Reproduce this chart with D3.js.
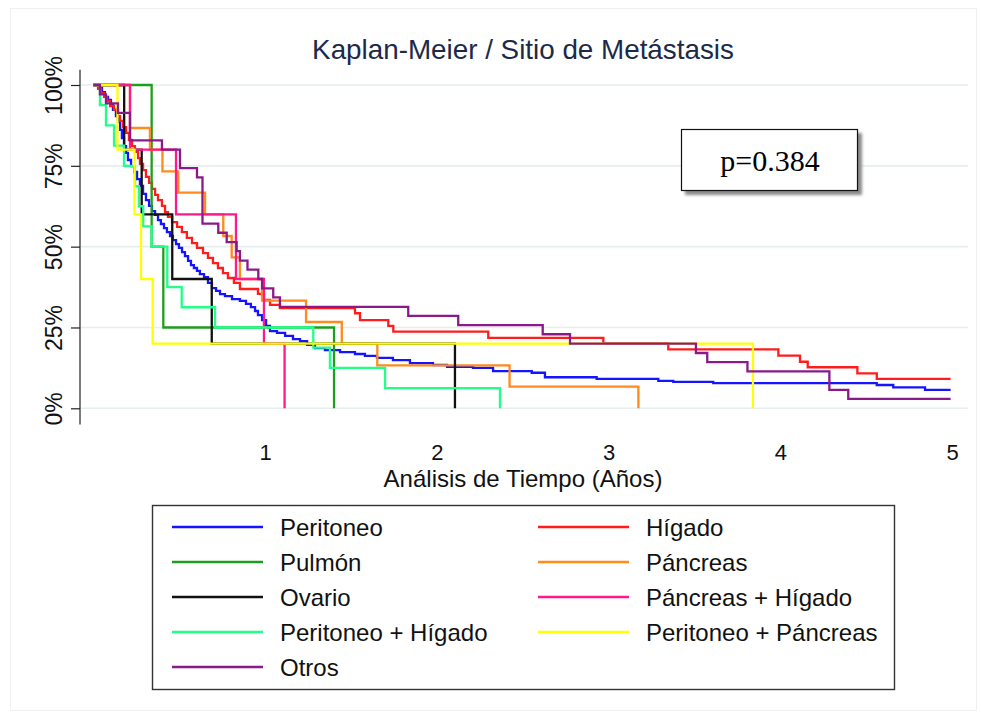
<!DOCTYPE html>
<html>
<head>
<meta charset="utf-8">
<script src="https://cdn.jsdelivr.net/npm/d3@7"></script>
<style>
  body { margin: 0; background: #fff; }
  svg { display: block; font-family: "Liberation Sans", Arial, sans-serif; }
</style>
</head>
<body>
<svg id="chart" width="982" height="717"></svg>
<script>
// Survival groups, in legend order (row by row, two columns)
const groups = [
  "Peritoneo", "Hígado",
  "Pulmón", "Páncreas",
  "Ovario", "Páncreas + Hígado",
  "Peritoneo + Hígado", "Peritoneo + Páncreas",
  "Otros"
];
const colors = [
  "#1414ff", "#ff1c1c",
  "#1e9e1e", "#ff8a1e",
  "#111111", "#ff1a8a",
  "#22ff88", "#ffff00",
  "#8a1a8a"
];

// Kaplan-Meier steps: [time in years, survival after the event]
const peritoneo = [[0,1],[0.033,0.991],[0.051,0.978],[0.068,0.963],[0.086,0.954],[0.103,0.941],[0.115,0.923],[0.132,0.904],[0.144,0.886],[0.156,0.861],[0.167,0.836],[0.179,0.811],[0.191,0.790],[0.202,0.768],[0.220,0.749],[0.238,0.731],[0.255,0.709],[0.272,0.688],[0.290,0.663],[0.307,0.644],[0.325,0.626],[0.342,0.610],[0.360,0.598],[0.377,0.582],[0.394,0.570],[0.412,0.557],[0.429,0.545],[0.447,0.533],[0.464,0.520],[0.482,0.508],[0.499,0.496],[0.517,0.483],[0.534,0.471],[0.552,0.456],[0.569,0.443],[0.586,0.434],[0.604,0.425],[0.621,0.415],[0.645,0.406],[0.668,0.388],[0.691,0.372],[0.715,0.363],[0.738,0.353],[0.767,0.347],[0.808,0.338],[0.854,0.332],[0.889,0.323],[0.918,0.313],[0.942,0.301],[0.959,0.288],[0.983,0.273],[1.006,0.255],[1.029,0.239],[1.070,0.233],[1.117,0.224],[1.163,0.214],[1.204,0.208],[1.245,0.196],[1.291,0.186],[1.349,0.180],[1.437,0.174],[1.524,0.168],[1.582,0.162],[1.652,0.156],[1.745,0.149],[1.844,0.140],[1.978,0.134],[2.060,0.128],[2.211,0.125],[2.328,0.115],[2.553,0.110],[2.630,0.096],[2.931,0.091],[3.290,0.085],[3.377,0.082],[3.610,0.078],[4.562,0.072],[4.658,0.065],[4.843,0.057]];
const higado = [[0,1],[0.028,0.988],[0.045,0.975],[0.063,0.963],[0.080,0.951],[0.098,0.935],[0.121,0.923],[0.144,0.904],[0.156,0.889],[0.173,0.870],[0.191,0.852],[0.208,0.830],[0.226,0.811],[0.243,0.793],[0.261,0.774],[0.272,0.756],[0.290,0.737],[0.307,0.716],[0.325,0.697],[0.342,0.679],[0.360,0.660],[0.377,0.644],[0.400,0.626],[0.418,0.607],[0.435,0.592],[0.459,0.576],[0.488,0.561],[0.516,0.545],[0.545,0.527],[0.575,0.511],[0.604,0.496],[0.639,0.480],[0.668,0.465],[0.697,0.449],[0.726,0.434],[0.755,0.418],[0.784,0.403],[0.819,0.388],[0.854,0.369],[0.959,0.354],[0.994,0.335],[1.029,0.320],[1.087,0.310],[1.524,0.294],[1.553,0.273],[1.718,0.255],[1.747,0.237],[2.300,0.218],[2.970,0.201],[3.348,0.182],[3.989,0.163],[4.115,0.144],[4.160,0.127],[4.449,0.108],[4.562,0.091]];
const pulmon = [[0,1],[0.340,0.5],[0.408,0.25],[1.402,0]];
const pancreas = [[0,1],[0.214,0.867],[0.330,0.8],[0.403,0.733],[0.495,0.667],[0.651,0.6],[0.757,0.533],[0.806,0.467],[0.854,0.4],[0.983,0.333],[1.239,0.267],[1.447,0.2],[1.654,0.133],[2.424,0.067],[3.174,0]];
const ovario = [[0,1],[0.180,0.8],[0.282,0.6],[0.460,0.4],[0.690,0.2],[2.106,0]];
const pancreasHigado = [[0,1],[0.214,0.8],[0.482,0.6],[0.831,0.4],[0.994,0.2],[1.114,0]];
const peritoneoHigado = [[0,1],[0.039,0.9375],[0.074,0.875],[0.121,0.8125],[0.179,0.75],[0.243,0.6875],[0.266,0.625],[0.291,0.5625],[0.340,0.5],[0.431,0.375],[0.515,0.3125],[0.709,0.25],[1.281,0.1875],[1.378,0.125],[1.699,0.0625],[2.368,0]];
const peritoneoPancreas = [[0,1],[0.141,0.8],[0.240,0.6],[0.278,0.4],[0.346,0.2],[3.841,0]];
const otros = [[0,1],[0.039,0.971],[0.074,0.943],[0.144,0.914],[0.214,0.829],[0.400,0.8],[0.505,0.743],[0.604,0.714],[0.636,0.571],[0.728,0.543],[0.777,0.514],[0.835,0.486],[0.854,0.457],[0.898,0.429],[0.961,0.4],[0.983,0.371],[1.048,0.343],[1.087,0.314],[1.834,0.286],[2.125,0.257],[2.617,0.229],[2.776,0.2],[3.509,0.171],[3.575,0.143],[3.809,0.114],[4.286,0.057],[4.396,0.029]];

// Last follow-up time of groups that are censored above zero
const followUpEnd = [4.992, 4.992, null, null, null, null, null, null, 4.992];

const xTicks = [1, 2, 3, 4, 5];
const yTicks = [0, 0.25, 0.5, 0.75, 1];
const titleText = "Kaplan-Meier / Sitio de Metástasis";
const xTitle = "Análisis de Tiempo (Años)";
const pText = "p=0.384";

const series = [peritoneo, higado, pulmon, pancreas, ovario, pancreasHigado, peritoneoHigado, peritoneoPancreas, otros];

const svg = d3.select("#chart");

const x = d3.scaleLinear().domain([0, 5]).range([93.25, 952]);
const y = d3.scaleLinear().domain([0, 1]).range([408.3, 85]);

// faint outer frame
svg.append("rect")
  .attr("x", 10.5).attr("y", 8.5).attr("width", 966).attr("height", 702)
  .attr("fill", "none").attr("stroke", "#f0f0f0").attr("stroke-width", 1);

// horizontal grid
svg.append("g").selectAll("line").data(yTicks).join("line")
  .attr("x1", 81).attr("x2", 968)
  .attr("y1", d => y(d)).attr("y2", d => y(d))
  .attr("stroke", "#e6eef0").attr("stroke-width", 1.6);

// title
svg.append("text")
  .attr("x", 523).attr("y", 59)
  .attr("text-anchor", "middle")
  .attr("fill", "#1c2a48")
  .style("font-size", "27.8px")
  .text(titleText);

// y axis
const yAxis = svg.append("g").attr("transform", "translate(80,0)")
  .call(d3.axisLeft(y).tickValues(yTicks).tickSize(9).tickFormat(d => Math.round(d * 100) + "%"));
yAxis.select(".domain").remove();
yAxis.append("line")
  .attr("x1", 0).attr("x2", 0)
  .attr("y1", y(1.047)).attr("y2", y(-0.05))
  .attr("stroke", "#222").attr("stroke-width", 1.2);
yAxis.selectAll(".tick line").attr("stroke", "#222").attr("stroke-width", 1.2);
yAxis.selectAll(".tick text")
  .attr("transform", "rotate(-90)")
  .attr("x", 0).attr("y", -18).attr("dy", 0)
  .attr("fill", "#111")
  .style("text-anchor", "middle")
  .style("font-size", "23px")
  .style("font-family", "'Liberation Sans', Arial, sans-serif");

// x axis (labels only)
const xAxis = svg.append("g").attr("transform", "translate(0,424)")
  .call(d3.axisBottom(x).tickValues(xTicks).tickSize(0).tickFormat(d3.format("d")));
xAxis.select(".domain").remove();
xAxis.selectAll(".tick text")
  .attr("y", 36).attr("dy", 0)
  .attr("fill", "#111")
  .style("font-size", "22px")
  .style("font-family", "'Liberation Sans', Arial, sans-serif");

svg.append("text")
  .attr("x", 523).attr("y", 487)
  .attr("text-anchor", "middle")
  .attr("fill", "#111")
  .style("font-size", "24px")
  .text(xTitle);

// survival curves
const line = d3.line()
  .x(d => x(d[0]))
  .y(d => y(d[1]))
  .curve(d3.curveStepAfter);

series.forEach((pts, i) => {
  const data = followUpEnd[i] != null ? pts.concat([[followUpEnd[i], pts[pts.length - 1][1]]]) : pts;
  svg.append("path")
    .datum(data)
    .attr("d", line)
    .attr("fill", "none")
    .attr("stroke", colors[i])
    .attr("stroke-width", 2.3);
});

// p-value box with shadow
const defs = svg.append("defs");
defs.append("filter").attr("id", "soft")
  .append("feGaussianBlur").attr("stdDeviation", 1.8);
svg.append("rect")
  .attr("x", 685).attr("y", 133).attr("width", 177).attr("height", 62)
  .attr("fill", "#8a8a8a").attr("filter", "url(#soft)");
svg.append("rect")
  .attr("x", 681.5).attr("y", 129.5).attr("width", 176).attr("height", 61)
  .attr("fill", "#fff").attr("stroke", "#111").attr("stroke-width", 1.2);
svg.append("text")
  .attr("x", 770).attr("y", 171)
  .attr("text-anchor", "middle")
  .attr("fill", "#000")
  .style("font-family", "'Liberation Serif', 'Times New Roman', serif")
  .style("font-size", "30px")
  .text(pText);

// legend
const legend = svg.append("g");
legend.append("rect")
  .attr("x", 152.5).attr("y", 505.5).attr("width", 742).attr("height", 184)
  .attr("fill", "#fff").attr("stroke", "#333").attr("stroke-width", 1.4);
const colX = [172, 538];
const rowY0 = 527, rowStep = 35;
groups.forEach((g, i) => {
  const col = i % 2, row = Math.floor(i / 2);
  const cy = rowY0 + row * rowStep;
  legend.append("line")
    .attr("x1", colX[col]).attr("x2", colX[col] + 91)
    .attr("y1", cy).attr("y2", cy)
    .attr("stroke", colors[i]).attr("stroke-width", 2.3);
  legend.append("text")
    .attr("x", colX[col] + 108).attr("y", cy + 8.5)
    .attr("fill", "#111")
    .style("font-size", "24px")
    .text(g);
});
</script>
</body>
</html>
